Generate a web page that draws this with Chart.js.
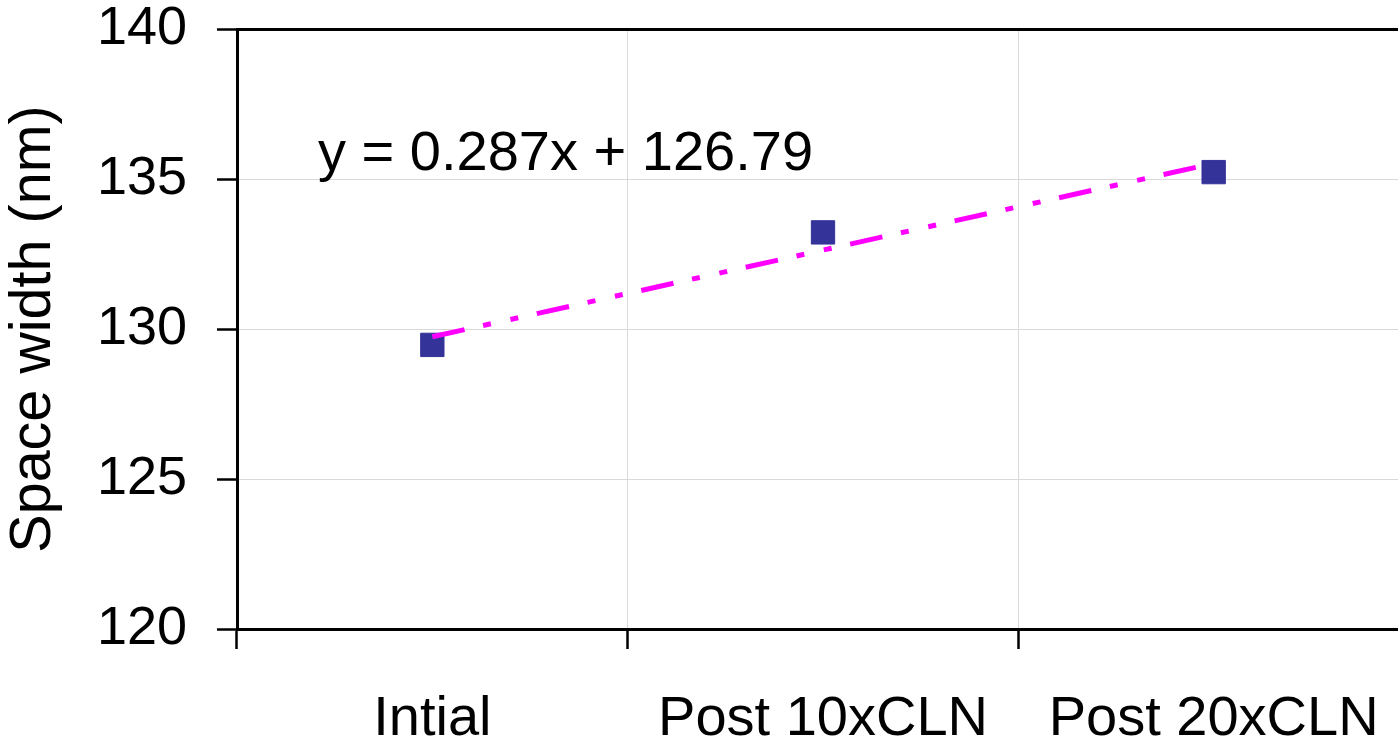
<!DOCTYPE html>
<html><head><meta charset="utf-8">
<script src="https://cdn.jsdelivr.net/npm/chart.js@4"></script>
<style>html,body{margin:0;padding:0;overflow:hidden;background:#fff}canvas{display:block}</style>
</head><body>
<canvas id="c" width="1409" height="742"></canvas>
<script>
const categories = ['Intial', 'Post 10xCLN', 'Post 20xCLN'];
const spaceWidth = [129.47, 133.22, 135.23];
const trendline = [129.74, 132.63, 135.52];
const yTicks = [120, 125, 130, 135, 140];
const equationLabel = 'y = 0.287x + 126.79';
const yAxisTitle = 'Space width (nm)';

const FONT = "'Liberation Sans', Arial, sans-serif";

const equationPlugin = {
  id: 'equation',
  afterDatasetsDraw(chart) {
    const ctx = chart.ctx;
    const a = chart.chartArea;
    ctx.save();
    ctx.font = '56px ' + FONT;
    ctx.fillStyle = '#000';
    ctx.textAlign = 'left';
    ctx.textBaseline = 'alphabetic';
    ctx.fillText(equationLabel, a.left + 81, a.top + 141);
    ctx.restore();
  }
};

new Chart(document.getElementById('c'), {
  type: 'line',
  data: {
    labels: categories,
    datasets: [
      {
        label: 'Trend',
        data: trendline,
        borderColor: '#FF00FF',
        borderWidth: 5,
        borderDash: [33, 19, 8, 20, 8, 19],
        borderCapStyle: 'butt',
        pointRadius: 0,
        tension: 0,
        fill: false,
        order: 0
      },
      {
        label: 'Space width',
        data: spaceWidth,
        showLine: false,
        pointStyle: 'rect',
        pointRadius: 16.5,
        pointBackgroundColor: '#333399',
        pointBorderColor: '#333399',
        pointBorderWidth: 1,
        order: 1
      }
    ]
  },
  options: {
    responsive: false,
    animation: false,
    events: [],
    layout: { autoPadding: false, padding: { top: 29, left: 0, right: 0, bottom: 0 } },
    plugins: { legend: { display: false }, tooltip: { enabled: false } },
    scales: {
      x: {
        offset: true,
        grid: {
          offset: true,
          color: '#d9d9d9',
          lineWidth: 1,
          tickLength: 20,
          tickColor: '#000',
          tickWidth: 2.5
        },
        border: { color: '#000', width: 3 },
        ticks: {
          color: '#000',
          font: { family: FONT, size: 56, lineHeight: 1.2 },
          padding: 37,
          maxRotation: 0,
          autoSkip: false
        },
        afterFit(scale) {
          scale.height = 113;
          scale.paddingLeft = 0;
          scale.paddingRight = 0;
        }
      },
      y: {
        min: 120,
        max: 140,
        afterBuildTicks(scale) { scale.ticks = yTicks.map(v => ({ value: v })); },
        grid: {
          color: (c) => (c.tick && (c.tick.value === 140 || c.tick.value === 120)) ? '#000' : '#d9d9d9',
          lineWidth: (c) => (c.tick && c.tick.value === 140) ? 3 : 1,
          tickLength: 20,
          tickColor: '#000',
          tickWidth: 2.5
        },
        border: { color: '#000', width: 3 },
        ticks: {
          color: '#000',
          font: { family: FONT, size: 54, lineHeight: 1 },
          padding: 30
        },
        title: {
          display: true,
          text: yAxisTitle,
          color: '#000',
          font: { family: FONT, size: 57.5, lineHeight: 1.2 },
          padding: { top: 0, bottom: 0 }
        },
        afterFit(scale) {
          scale.width = 237;
          scale.paddingTop = 0;
          scale.paddingBottom = 0;
        }
      }
    }
  },
  plugins: [equationPlugin]
});
</script>
</body></html>
